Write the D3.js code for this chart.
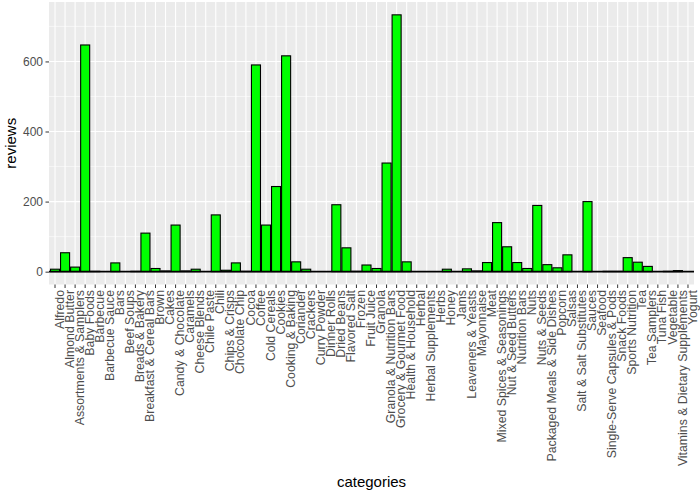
<!DOCTYPE html>
<html>
<head>
<meta charset="utf-8">
<script src="https://cdn.jsdelivr.net/npm/d3@7"></script>
<style>
  body { margin: 0; background: #fff; }
  text { font-family: "Liberation Sans", Arial, sans-serif; }
</style>
</head>
<body>
<div id="chart"></div>
<script>
// data
var categories = [
  "Alfredo", "Almond Butter", "Assortments & Samplers", "Baby Foods", "Barbecue",
  "Barbecue Sauce", "Bars", "Beef Soups", "Breads & Bakery", "Breakfast & Cereal Bars",
  "Brown", "Cakes", "Candy & Chocolate", "Caramels", "Cheese Blends", "Chile Paste",
  "Chili", "Chips & Crisps", "Chocolate Chip", "Cocoa", "Coffee", "Cold Cereals",
  "Cookies", "Cooking & Baking", "Coriander", "Crackers", "Curry Powder", "Dinner Rolls",
  "Dried Beans", "Flavored Salt", "Frozen", "Fruit Juice", "Granola",
  "Granola & Nutrition Bars", "Grocery & Gourmet Food", "Health & Household", "Herbal",
  "Herbal Supplements", "Herbs", "Honey", "Jams", "Leaveners & Yeasts", "Mayonnaise",
  "Meat", "Mixed Spices & Seasonings", "Nut & Seed Butters", "Nutrition Bars", "Nuts",
  "Nuts & Seeds", "Packaged Meals & Side Dishes", "Popcorn", "Salsas",
  "Salt & Salt Substitutes", "Sauces", "Seafood", "Single-Serve Capsules & Pods",
  "Snack Foods", "Sports Nutrition", "Tea", "Tea Samplers", "Tuna Fish", "Vegetable",
  "Vitamins & Dietary Supplements", "Yogurt"
];
var reviews = [
  7, 54, 13, 647, 1,
  0, 25, 0, 1, 110,
  9, 2, 133, 2, 7, 0,
  162, 4, 25, 1, 590, 133,
  243, 616, 28, 7, 0, 0,
  191, 68, 1, 19, 9,
  310, 733, 28, 0,
  0, 0, 7, 0, 8, 2,
  26, 140, 71, 26, 9,
  189, 20, 11, 48,
  0, 200, 0, 1,
  1, 40, 27, 15, 0, 1,
  3, 0
];
var yTicks = [0, 200, 400, 600];
var yMinorTicks = [100, 300, 500, 700];

var width = 700;
var height = 493;
var panel = { left: 49, right: 694, top: 2, bottom: 284.5 };

var svg = d3
  .select("#chart")
  .append("svg")
  .attr("width", width)
  .attr("height", height);

var x = d3
  .scaleBand()
  .domain(categories)
  .range([panel.left, panel.right])
  .paddingInner(0.1)
  .paddingOuter(0.15);

var ymax = d3.max(reviews);
var y = d3
  .scaleLinear()
  .domain([-0.05 * ymax, ymax * 1.05])
  .range([panel.bottom, panel.top]);

// panel background
svg
  .append("rect")
  .attr("x", panel.left)
  .attr("y", panel.top)
  .attr("width", panel.right - panel.left)
  .attr("height", panel.bottom - panel.top)
  .attr("fill", "#ebebeb");

// grid
svg
  .append("g")
  .selectAll("line")
  .data(yMinorTicks)
  .enter()
  .append("line")
  .attr("x1", panel.left)
  .attr("x2", panel.right)
  .attr("y1", function (d) { return y(d); })
  .attr("y2", function (d) { return y(d); })
  .attr("stroke", "#fff")
  .attr("stroke-width", 0.55);

svg
  .append("g")
  .selectAll("line")
  .data(yTicks)
  .enter()
  .append("line")
  .attr("x1", panel.left)
  .attr("x2", panel.right)
  .attr("y1", function (d) { return y(d); })
  .attr("y2", function (d) { return y(d); })
  .attr("stroke", "#fff")
  .attr("stroke-width", 1.1);

svg
  .append("g")
  .selectAll("line")
  .data(categories)
  .enter()
  .append("line")
  .attr("x1", function (d) { return x(d) + x.bandwidth() / 2; })
  .attr("x2", function (d) { return x(d) + x.bandwidth() / 2; })
  .attr("y1", panel.top)
  .attr("y2", panel.bottom)
  .attr("stroke", "#fff")
  .attr("stroke-width", 1.1);

// bars
svg
  .append("g")
  .selectAll("rect")
  .data(categories)
  .enter()
  .append("rect")
  .attr("x", function (d) { return x(d); })
  .attr("width", x.bandwidth())
  .attr("y", function (d, i) { return y(reviews[i]); })
  .attr("height", function (d, i) { return y(0) - y(reviews[i]); })
  .attr("fill", "#00ff00")
  .attr("stroke", "#000")
  .attr("stroke-width", 1.1);

// zero line
svg
  .append("line")
  .attr("x1", panel.left)
  .attr("x2", panel.right)
  .attr("y1", y(0))
  .attr("y2", y(0))
  .attr("stroke", "#000")
  .attr("stroke-width", 1.6);

// axes
var xAxis = svg
  .append("g")
  .attr("transform", "translate(0," + panel.bottom + ")")
  .call(d3.axisBottom(x).tickSize(3.5).tickPadding(2));

xAxis.select(".domain").remove();
xAxis.selectAll("line").attr("stroke", "#333");
xAxis
  .selectAll("text")
  .attr("transform", "rotate(-90)")
  .attr("x", -5.5)
  .attr("y", 0)
  .attr("dy", "0.7em")
  .attr("text-anchor", "end")
  .attr("fill", "#4d4d4d")
  .style("font-size", "12.3px")
  .style("font-family", "Liberation Sans, Arial, sans-serif");

var yAxis = svg
  .append("g")
  .attr("transform", "translate(" + panel.left + ",0)")
  .call(d3.axisLeft(y).tickValues(yTicks).tickSize(3.5).tickPadding(2.5));

yAxis.select(".domain").remove();
yAxis.selectAll("line").attr("stroke", "#333");
yAxis
  .selectAll("text")
  .attr("fill", "#4d4d4d")
  .style("font-size", "12px")
  .style("font-family", "Liberation Sans, Arial, sans-serif");

// axis titles
svg
  .append("text")
  .attr("x", (panel.left + panel.right) / 2)
  .attr("y", 487)
  .attr("text-anchor", "middle")
  .style("font-size", "15px")
  .text("categories");

svg
  .append("text")
  .attr("transform", "translate(16," + (panel.top + panel.bottom) / 2 + ") rotate(-90)")
  .attr("text-anchor", "middle")
  .style("font-size", "15px")
  .text("reviews");
</script>
</body>
</html>
